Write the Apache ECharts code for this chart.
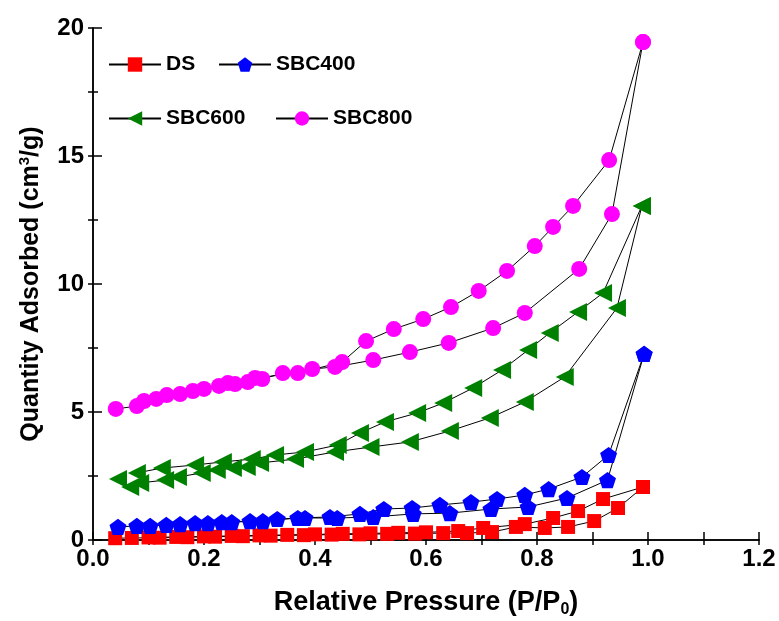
<!DOCTYPE html>
<html>
<head>
<meta charset="utf-8">
<script src="https://cdn.jsdelivr.net/npm/echarts@6/dist/echarts.min.js"></script>
<style>html,body{margin:0;padding:0;background:#fff;}#c{width:779px;height:621px;}</style>
</head>
<body>
<div id="c"></div>
<script>
// ---- data (relative pressure P/P0, quantity adsorbed cm3/g) ----
var xTicks = [0.0, 0.2, 0.4, 0.6, 0.8, 1.0, 1.2];
var yTicks = [0, 5, 10, 15, 20];
var sampleNames = ['DS', 'SBC400', 'SBC600', 'SBC800'];

var dsAds = [[0.04,0.07],[0.07,0.08],[0.12,0.09],[0.17,0.11],[0.22,0.13],[0.27,0.15],[0.32,0.17],[0.38,0.19],[0.43,0.21],[0.48,0.22],[0.53,0.24],[0.58,0.25],[0.631,0.27],[0.674,0.27],[0.719,0.31],[0.762,0.51],[0.814,0.47],[0.856,0.51],[0.903,0.74],[0.946,1.25],[0.991,2.07]];
var dsDes = [[0.991,2.07],[0.919,1.60],[0.874,1.13],[0.829,0.86],[0.778,0.62],[0.703,0.47],[0.658,0.35],[0.60,0.30],[0.55,0.28],[0.50,0.26],[0.45,0.24],[0.40,0.22],[0.35,0.20],[0.30,0.18],[0.25,0.16],[0.20,0.14],[0.15,0.12],[0.10,0.10]];

var s400Ads = [[0.045,0.51],[0.079,0.55],[0.132,0.59],[0.184,0.66],[0.232,0.70],[0.283,0.74],[0.332,0.82],[0.382,0.86],[0.440,0.86],[0.505,0.90],[0.577,1.02],[0.643,1.05],[0.717,1.21],[0.784,1.29],[0.854,1.64],[0.927,2.34],[0.993,7.27]];
var s400Des = [[0.993,7.27],[0.929,3.32],[0.881,2.46],[0.821,1.99],[0.778,1.76],[0.728,1.60],[0.681,1.48],[0.625,1.37],[0.575,1.25],[0.524,1.21],[0.481,1.02],[0.427,0.90],[0.369,0.86],[0.306,0.74],[0.250,0.70],[0.207,0.66],[0.157,0.62],[0.103,0.55]];

var s600Ads = [[0.045,2.38],[0.067,2.07],[0.085,2.23],[0.130,2.34],[0.153,2.46],[0.196,2.62],[0.223,2.73],[0.252,2.81],[0.277,2.85],[0.301,3.01],[0.364,3.16],[0.436,3.44],[0.500,3.63],[0.571,3.83],[0.643,4.26],[0.715,4.77],[0.778,5.39],[0.850,6.37],[0.944,9.06],[0.989,13.05]];
var s600Des = [[0.989,13.05],[0.919,9.65],[0.874,8.91],[0.823,8.09],[0.784,7.42],[0.737,6.64],[0.685,5.94],[0.631,5.35],[0.584,4.96],[0.526,4.61],[0.481,4.18],[0.441,3.71],[0.382,3.44],[0.328,3.32],[0.286,3.16],[0.234,3.05],[0.184,2.93],[0.124,2.81],[0.079,2.62]];

var s800Ads = [[0.041,5.12],[0.079,5.23],[0.114,5.51],[0.157,5.70],[0.200,5.90],[0.243,6.13],[0.279,6.17],[0.305,6.29],[0.342,6.52],[0.395,6.68],[0.436,6.76],[0.505,7.03],[0.571,7.34],[0.641,7.70],[0.721,8.28],[0.778,8.87],[0.876,10.59],[0.935,12.73],[0.991,19.45]];
var s800Des = [[0.991,19.45],[0.930,14.84],[0.865,13.05],[0.829,12.23],[0.796,11.48],[0.746,10.51],[0.695,9.73],[0.645,9.10],[0.595,8.63],[0.542,8.24],[0.492,7.77],[0.449,6.95],[0.369,6.52],[0.292,6.33],[0.256,6.09],[0.227,6.02],[0.180,5.82],[0.133,5.66],[0.092,5.43]];

// ---- styles ----
var FONT = "'Liberation Sans', Arial, Helvetica, sans-serif";
var PENTAGON = 'path://M50,0 L97.6,34.5 L79.4,90.5 L20.6,90.5 L2.4,34.5 Z';
var LEFT_TRI = 'path://M0,50 L100,0 L100,100 Z';
var styles = {
  'DS':     {color: '#FF0000', symbol: 'rect',   size: 14},
  'SBC400': {color: '#0000FF', symbol: PENTAGON, size: 17},
  'SBC600': {color: '#008000', symbol: LEFT_TRI, size: 18},
  'SBC800': {color: '#FF00FF', symbol: 'circle', size: 16}
};
var branches = [
  ['DS', dsAds], ['DS', dsDes],
  ['SBC400', s400Ads], ['SBC400', s400Des],
  ['SBC600', s600Ads], ['SBC600', s600Des],
  ['SBC800', s800Ads], ['SBC800', s800Des]
];

var series = branches.map(function (b) {
  var st = styles[b[0]];
  return {
    name: b[0],
    type: 'line',
    data: b[1],
    xAxisIndex: 0,
    yAxisIndex: 0,
    symbol: st.symbol,
    symbolSize: st.size,
    symbolKeepAspect: true,
    showAllSymbol: true,
    clip: false,
    lineStyle: {color: '#000', width: 1},
    itemStyle: {color: st.color, borderWidth: 0},
    emphasis: {disabled: true},
    silent: true
  };
});

var legendPos = {
  'DS':     {left: 108, top: 54},
  'SBC400': {left: 218, top: 54},
  'SBC600': {left: 108, top: 108},
  'SBC800': {left: 275, top: 108}
};
var legends = sampleNames.map(function (n) {
  return {
    data: [n],
    left: legendPos[n].left,
    top: legendPos[n].top,
    orient: 'horizontal',
    padding: 0,
    itemWidth: 52,
    itemHeight: 18,
    selectedMode: false,
    textStyle: {fontFamily: FONT, fontSize: 21, fontWeight: 'bold', color: '#000'}
  };
});

var axisLineStyle = {show: true, lineStyle: {color: '#000', width: 1.5}};

var option = {
  animation: false,
  backgroundColor: '#fff',
  grid: {left: 93, right: 20, top: 28, bottom: 81, containLabel: false, outerBoundsMode: 'none'},
  legend: legends,
  xAxis: [{
    type: 'value', position: 'bottom',
    min: xTicks[0], max: xTicks[xTicks.length - 1], interval: 0.2,
    axisLine: axisLineStyle,
    axisTick: {show: true, inside: true, length: 8, lineStyle: {color: '#000', width: 1.5}},
    minorTick: {show: true, splitNumber: 2, length: 8, lineStyle: {color: '#000', width: 1.5}},
    splitLine: {show: false},
    axisLabel: {
      margin: 7, color: '#000', fontFamily: FONT, fontSize: 24, fontWeight: 'bold',
      formatter: function (v) { return v.toFixed(1); }
    },
    name: 'Relative Pressure (P/P{sub|0})',
    nameLocation: 'middle', nameGap: 48,
    nameTextStyle: {
      color: '#000', fontFamily: FONT, fontSize: 27, fontWeight: 'bold', lineHeight: 30,
      rich: {sub: {fontFamily: FONT, fontSize: 16, fontWeight: 'bold', color: '#000', lineHeight: 10, verticalAlign: 'bottom'}}
    }
  }, {
    type: 'value', position: 'top',
    min: xTicks[0], max: xTicks[xTicks.length - 1], interval: 0.2,
    axisLine: axisLineStyle,
    axisTick: {show: true, inside: true, length: 5, lineStyle: {color: '#000', width: 1.5}},
    minorTick: {show: true, splitNumber: 2, length: 5, lineStyle: {color: '#000', width: 1.5}},
    splitLine: {show: false},
    axisLabel: {show: false}
  }],
  yAxis: [{
    type: 'value', position: 'left',
    min: yTicks[0], max: yTicks[yTicks.length - 1], interval: 5,
    axisLine: axisLineStyle,
    axisTick: {show: true, inside: true, length: 9, lineStyle: {color: '#000', width: 1.5}},
    minorTick: {show: true, splitNumber: 2, length: 5, lineStyle: {color: '#000', width: 1.5}},
    splitLine: {show: false},
    axisLabel: {margin: 9, color: '#000', fontFamily: FONT, fontSize: 24, fontWeight: 'bold'},
    name: 'Quantity Adsorbed (cm{sup|3}/g)',
    nameLocation: 'middle', nameGap: 48, nameRotate: 90,
    nameTextStyle: {
      color: '#000', fontFamily: FONT, fontSize: 25, fontWeight: 'bold', lineHeight: 28,
      rich: {sup: {fontFamily: FONT, fontSize: 15, fontWeight: 'bold', color: '#000', lineHeight: 10, verticalAlign: 'top'}}
    }
  }, {
    type: 'value', position: 'right',
    min: yTicks[0], max: yTicks[yTicks.length - 1], interval: 5,
    axisLine: axisLineStyle,
    axisTick: {show: true, inside: true, length: 5, lineStyle: {color: '#000', width: 1.5}},
    minorTick: {show: true, splitNumber: 2, length: 5, lineStyle: {color: '#000', width: 1.5}},
    splitLine: {show: false},
    axisLabel: {show: false}
  }],
  series: series
};

var chart = echarts.init(document.getElementById('c'), null, {renderer: 'canvas'});
chart.setOption(option);
</script>
</body>
</html>
